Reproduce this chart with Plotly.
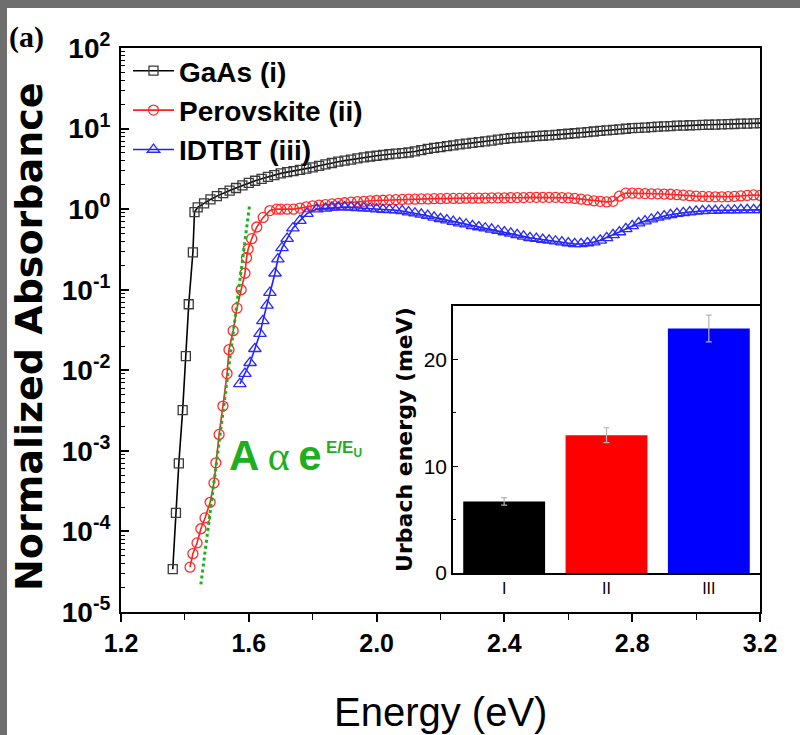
import plotly.graph_objects as go

# ---------------- data ----------------
gaas_E = [1.362, 1.372, 1.381, 1.393, 1.403, 1.412, 1.425, 1.430,
          1.44, 1.46, 1.48, 1.50, 1.52, 1.54, 1.56, 1.58, 1.60, 1.62, 1.64, 1.66, 1.68, 1.70,
          1.72, 1.74, 1.76, 1.78, 1.80, 1.82, 1.84, 1.86, 1.88, 1.90, 1.92, 1.94, 1.96, 1.98,
          2.00, 2.02, 2.04, 2.06, 2.08, 2.10, 2.12, 2.14, 2.16, 2.18, 2.20, 2.22, 2.24, 2.26,
          2.28, 2.30, 2.32, 2.34, 2.36, 2.38, 2.40, 2.42, 2.44, 2.46, 2.48, 2.50, 2.52, 2.54,
          2.56, 2.58, 2.60, 2.62, 2.64, 2.66, 2.68, 2.70, 2.72, 2.74, 2.76, 2.78, 2.80, 2.82,
          2.84, 2.86, 2.88, 2.90, 2.92, 2.94, 2.96, 2.98, 3.00, 3.02, 3.04, 3.06, 3.08, 3.10,
          3.12, 3.14, 3.16, 3.18, 3.20]
gaas_A = [3.4e-5, 1.7e-4, 7.0e-4, 3.2e-3, 1.5e-2, 6.6e-2, 0.29, 0.92,
          1.05, 1.18, 1.32, 1.45, 1.58, 1.70, 1.83, 1.97, 2.12, 2.25, 2.38, 2.52, 2.65, 2.78,
          2.88, 2.97, 3.07, 3.18, 3.30, 3.45, 3.60, 3.74, 3.88, 4.00, 4.12, 4.26, 4.40, 4.50,
          4.60, 4.70, 4.80, 4.88, 4.95, 5.05, 5.20, 5.40, 5.60, 5.75, 5.90, 6.05, 6.20, 6.35,
          6.50, 6.65, 6.80, 6.95, 7.10, 7.30, 7.45, 7.60, 7.72, 7.85, 7.95, 8.05, 8.15, 8.25,
          8.35, 8.50, 8.62, 8.75, 8.90, 9.05, 9.20, 9.35, 9.50, 9.65, 9.80, 9.95, 10.1, 10.2,
          10.3, 10.45, 10.55, 10.65, 10.75, 10.85, 10.9, 11.0, 11.05, 11.1, 11.15, 11.2, 11.3, 11.35,
          11.4, 11.5, 11.55, 11.6, 11.7]

pero_E = [1.416, 1.425, 1.438, 1.450, 1.463, 1.479, 1.491, 1.497, 1.507, 1.519, 1.532, 1.538,
          1.551, 1.563, 1.576, 1.588, 1.593, 1.598, 1.609, 1.625, 1.645, 1.666, 1.687,
          1.70, 1.72, 1.74, 1.76, 1.78, 1.80, 1.82, 1.84, 1.86, 1.88, 1.90, 1.92, 1.94, 1.96, 1.98,
          2.00, 2.02, 2.04, 2.06, 2.08, 2.10, 2.12, 2.14, 2.16, 2.18, 2.20, 2.22, 2.24, 2.26,
          2.28, 2.30, 2.32, 2.34, 2.36, 2.38, 2.40, 2.42, 2.44, 2.46, 2.48, 2.50, 2.52, 2.54,
          2.56, 2.58, 2.60, 2.62, 2.64, 2.66, 2.68, 2.70, 2.72, 2.74, 2.76, 2.78, 2.80, 2.82,
          2.84, 2.86, 2.88, 2.90, 2.92, 2.94, 2.96, 2.98, 3.00, 3.02, 3.04, 3.06, 3.08, 3.10,
          3.12, 3.14, 3.16, 3.18, 3.20]
pero_A = [3.6e-5, 5.3e-5, 7.2e-5, 1.08e-4, 1.47e-4, 2.3e-4, 4.0e-4, 7.1e-4, 1.6e-3, 3.6e-3, 9.1e-3, 1.8e-2,
          3.1e-2, 5.9e-2, 0.10, 0.16, 0.25, 0.32, 0.43, 0.60, 0.79, 0.96, 1.0,
          1.0, 1.0, 1.0, 1.03, 1.07, 1.10, 1.12, 1.14, 1.16, 1.18, 1.20, 1.22, 1.24, 1.25, 1.27,
          1.28, 1.29, 1.30, 1.31, 1.32, 1.33, 1.33, 1.34, 1.34, 1.35, 1.35, 1.36, 1.36, 1.36,
          1.37, 1.37, 1.37, 1.37, 1.38, 1.38, 1.38, 1.39, 1.39, 1.39, 1.40, 1.40, 1.40, 1.40,
          1.40, 1.39, 1.38, 1.36, 1.33, 1.30, 1.27, 1.25, 1.23, 1.25, 1.45, 1.58, 1.58, 1.57,
          1.56, 1.55, 1.55, 1.54, 1.53, 1.51, 1.49, 1.47, 1.45, 1.44, 1.43, 1.42, 1.42, 1.43,
          1.44, 1.46, 1.48, 1.50, 1.48]

idt_E = [1.572, 1.588, 1.604, 1.619, 1.635, 1.644, 1.657, 1.666, 1.682, 1.691, 1.704, 1.720,
         1.738, 1.760, 1.782, 1.813, 1.84, 1.86, 1.88, 1.90, 1.92, 1.94, 1.96, 1.98,
         2.00, 2.02, 2.04, 2.06, 2.08, 2.10, 2.12, 2.14, 2.16, 2.18, 2.20, 2.22, 2.24, 2.26,
         2.28, 2.30, 2.32, 2.34, 2.36, 2.38, 2.40, 2.42, 2.44, 2.46, 2.48, 2.50, 2.52, 2.54,
         2.56, 2.58, 2.60, 2.62, 2.64, 2.66, 2.68, 2.70, 2.72, 2.74, 2.76, 2.78, 2.80, 2.82,
         2.84, 2.86, 2.88, 2.90, 2.92, 2.94, 2.96, 2.98, 3.00, 3.02, 3.04, 3.06, 3.08, 3.10,
         3.12, 3.14, 3.16, 3.18, 3.20]
idt_A = [6.8e-3, 9.1e-3, 1.24e-2, 1.85e-2, 2.85e-2, 4.1e-2, 6.4e-2, 9.2e-2, 0.16, 0.24, 0.33, 0.43,
         0.58, 0.72, 0.88, 1.0, 1.02, 1.05, 1.06, 1.06, 1.05, 1.04, 1.03, 1.02,
         1.00, 0.99, 0.98, 0.97, 0.95, 0.92, 0.89, 0.86, 0.83, 0.79, 0.76, 0.73, 0.70, 0.67,
         0.65, 0.62, 0.60, 0.58, 0.56, 0.54, 0.52, 0.50, 0.48, 0.46, 0.44, 0.43, 0.42, 0.41,
         0.40, 0.39, 0.38, 0.37, 0.37, 0.38, 0.39, 0.41, 0.44, 0.48, 0.52, 0.57, 0.62, 0.67,
         0.71, 0.75, 0.79, 0.82, 0.85, 0.88, 0.90, 0.92, 0.94, 0.95, 0.96, 0.96, 0.97, 0.97,
         0.97, 0.98, 0.98, 0.98, 0.98]

fit_E = [1.450, 1.603]
fit_A = [2.2e-5, 1.17]

series_names = ["GaAs (i)", "Perovskite (ii)", "IDTBT (iii)"]

urbach_cat = ["I", "II", "III"]
urbach_val = [6.7, 12.9, 22.9]
urbach_err = [0.35, 0.7, 1.25]

y_tick_exp = [-5, -4, -3, -2, -1, 0, 1, 2]
x_ticks = [1.2, 1.6, 2.0, 2.4, 2.8, 3.2]

# ---------------- style ----------------
W, H = 800, 735
L, R, T, B = 121, 40, 48, 123
PW, PH = W - L - R, H - T - B


def px(xp):
    return (xp - L) / PW


def py(yp):
    return (H - B - yp) / PH


ARIAL = "Liberation Sans, Arial, sans-serif"
WIDE = "DejaVu Sans, Verdana, sans-serif"
SERIF = "Liberation Serif, Times New Roman, serif"
GREEN = "#1fae1f"

fig = go.Figure()

fig.add_trace(go.Scatter(
    x=gaas_E, y=gaas_A, name=series_names[0], mode="lines+markers",
    line=dict(color="black", width=1.6),
    marker=dict(symbol="square-open", size=9, color="#3a3a3a", line=dict(width=1.3)),
))
fig.add_trace(go.Scatter(
    x=pero_E, y=pero_A, name=series_names[1], mode="lines+markers",
    line=dict(color="#ff2020", width=1.6),
    marker=dict(symbol="circle-open", size=10, color="#ff2a2a", line=dict(width=1.3)),
))
fig.add_trace(go.Scatter(
    x=idt_E, y=idt_A, name=series_names[2], mode="lines+markers",
    line=dict(color="#2020ff", width=1.6),
    marker=dict(symbol="triangle-up-open", size=11, color="#2a2aff", line=dict(width=1.3)),
))
fig.add_trace(go.Scatter(
    x=fit_E, y=fit_A, mode="lines", showlegend=False,
    line=dict(color=GREEN, width=3, dash="dot"),
))

fig.add_trace(go.Bar(
    x=urbach_cat, y=urbach_val, xaxis="x2", yaxis="y2", showlegend=False,
    marker=dict(color=["black", "#ff0000", "#0000ff"], line=dict(width=0)),
    width=0.8,
    error_y=dict(type="data", array=urbach_err, color="#b4b4b4", thickness=1.2, width=3),
))

minor_vals = [k * 10.0 ** d for d in range(-5, 2) for k in range(2, 10)]

fig.update_layout(
    width=W, height=H,
    margin=dict(l=L, r=R, t=T, b=B),
    paper_bgcolor="white", plot_bgcolor="white",
    showlegend=True,
    legend=dict(x=px(128), y=py(46), xanchor="left", yanchor="top",
                bgcolor="rgba(0,0,0,0)",
                font=dict(family=ARIAL, size=28, color="black", weight="bold"),
                itemwidth=41, tracegroupgap=0),
    xaxis=dict(
        range=[1.2, 3.2], tickvals=x_ticks, ticktext=[f"{v:.1f}" for v in x_ticks],
        ticks="outside", ticklen=8, tickwidth=1.6, tickcolor="black",
        minor=dict(tickvals=[1.4, 1.8, 2.2, 2.6, 3.0], ticks="outside", ticklen=6,
                   tickwidth=1.4, tickcolor="black"),
        showline=True, linecolor="black", linewidth=2, mirror=True,
        showgrid=False, zeroline=False,
        tickfont=dict(family=ARIAL, size=25, color="black", weight="bold"),
    ),
    yaxis=dict(
        type="log", range=[-5, 2],
        tickvals=[10.0 ** e for e in y_tick_exp],
        ticktext=[f"10<sup>{e}</sup>" for e in y_tick_exp],
        ticks="inside", ticklen=8, tickwidth=1.6, tickcolor="black",
        minor=dict(tickvals=minor_vals, ticks="inside", ticklen=4, tickwidth=1.2, tickcolor="black"),
        showline=True, linecolor="black", linewidth=2, mirror=True,
        showgrid=False, zeroline=False,
        tickfont=dict(family=ARIAL, size=28, color="black", weight="bold"),
        ticklabelstandoff=3,
    ),
    xaxis2=dict(
        domain=[px(453), 1.0], anchor="y2", range=[-0.5, 2.5],
        showline=True, linecolor="black", linewidth=1.6, mirror=True,
        ticks="", showgrid=False, zeroline=False,
        tickfont=dict(family=ARIAL, size=16, color="black"),
    ),
    yaxis2=dict(
        domain=[py(573), py(306)], anchor="x2", range=[0, 25],
        tickvals=[0, 10, 20], ticks="inside", ticklen=5, tickwidth=1.4, tickcolor="black",
        minor=dict(tickvals=[5, 15], ticks="inside", ticklen=3, tickwidth=1.2, tickcolor="black"),
        showline=True, linecolor="black", linewidth=1.6, mirror=True,
        showgrid=False, zeroline=False,
        tickfont=dict(family=ARIAL, size=21, color="black"),
        title=dict(text="Urbach energy (meV)",
                   font=dict(family=WIDE, size=22, color="black", weight="bold"), standoff=5),
    ),
)

# axis titles of the main panel
fig.add_annotation(text="Normalized Absorbance", xref="paper", yref="paper",
                   x=px(29), y=py(337), xanchor="center", yanchor="middle", textangle=-90,
                   showarrow=False, font=dict(family=WIDE, size=38, color="black", weight="bold"))
fig.add_annotation(text="Energy (eV)", xref="paper", yref="paper",
                   x=0.5, y=py(712), xanchor="center", yanchor="middle",
                   showarrow=False, font=dict(family=ARIAL, size=40, color="black"))

# grey frame of the original picture
fig.add_shape(type="rect", xref="paper", yref="paper", x0=px(0), x1=px(W), y0=py(8), y1=py(0),
              fillcolor="#6e6e6e", line=dict(width=0), layer="above")
fig.add_shape(type="rect", xref="paper", yref="paper", x0=px(0), x1=px(7), y0=py(H), y1=py(0),
              fillcolor="#6e6e6e", line=dict(width=0), layer="above")

fig.add_annotation(text="<b>(a)</b>", xref="paper", yref="paper", x=px(7), y=py(37),
                   xanchor="left", yanchor="middle", showarrow=False,
                   font=dict(family=SERIF, size=30, color="black"))

fig.add_annotation(
    text='A\u2009<span style="font-family:Liberation Serif, serif;font-weight:normal">α</span>\u2009e',
    xref="paper", yref="paper", x=px(227), y=py(456), xanchor="left", yanchor="middle",
    showarrow=False, font=dict(family=ARIAL, size=42, color=GREEN, weight="bold"))
fig.add_annotation(
    text="E/E<sub>U</sub>", xref="paper", yref="paper", x=px(324), y=py(449),
    xanchor="left", yanchor="middle", showarrow=False,
    font=dict(family=ARIAL, size=17, color=GREEN, weight="bold"))

fig.write_html("out.html",
               config={"displayModeBar": False},
               post_script="document.body.style.margin='0px';document.body.style.overflow='hidden';")
